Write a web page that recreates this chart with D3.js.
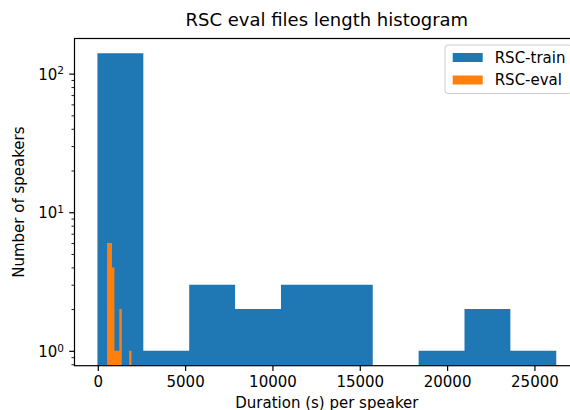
<!DOCTYPE html>
<html>
<head>
<meta charset="utf-8">
<script src="https://cdn.jsdelivr.net/npm/d3@7"></script>
<style>
  body { margin: 0; background: #fff; }
  svg { font-family: "DejaVu Sans", sans-serif; display: block; }
</style>
</head>
<body>
<div id="chart"></div>
<script>
// histogram bins (seconds per speaker)
var trainEdges = [-20, 2607, 5234, 7861, 10488, 13115, 15742, 18369, 20996, 23623, 26250];
var trainCounts = [140, 1, 3, 2, 3, 3, 0, 1, 2, 1];

var evalEdges = [532, 672, 812, 952, 1092, 1232, 1372, 1512, 1652, 1792, 1932];
var evalCounts = [6, 6, 4, 1, 1, 2, 0, 0, 0, 1];

var xTicks = [0, 5000, 10000, 15000, 20000, 25000];
var yMajor = [1, 10, 100];
var yExp = ["0", "1", "2"];
var yMinor = [0.8, 0.9, 2, 3, 4, 5, 6, 7, 8, 9, 20, 30, 40, 50, 60, 70, 80, 90];

var seriesNames = ["RSC-train", "RSC-eval"];
var seriesColors = ["#1f77b4", "#ff7f0e"];

var width = 570, height = 410;
var plot = {left: 74.5, right: 579.2, top: 38.5, bottom: 365.7};

var svg = d3.select("#chart")
  .append("svg")
    .attr("width", width)
    .attr("height", height);

// x: data range plus 5% margins, like matplotlib
var lo = d3.min([trainEdges[0], evalEdges[0]]),
    hi = d3.max([trainEdges[trainEdges.length - 1], evalEdges[evalEdges.length - 1]]),
    span = hi - lo;
var x = d3.scaleLinear()
    .domain([lo - 0.05 * span, hi + 0.05 * span])
    .range([plot.left, plot.right]);

// y: log scale, margins in log space
var lmax = Math.log10(d3.max(trainCounts.concat(evalCounts)));
var m = 0.05 * lmax;
var y = d3.scaleLog()
    .domain([Math.pow(10, -m), Math.pow(10, lmax + m)])
    .range([plot.bottom, plot.top]);

svg.append("clipPath").attr("id", "clip")
  .append("rect")
    .attr("x", plot.left).attr("y", plot.top)
    .attr("width", plot.right - plot.left)
    .attr("height", plot.bottom - plot.top);

// one stepped area per histogram, so equal neighbouring bars have no seam
function drawHist(edges, counts, color) {
  var pts = edges.map(function(e, i) { return {x: e, n: i < counts.length ? counts[i] : 0}; });
  var area = d3.area()
    .curve(d3.curveStepAfter)
    .x(function(d) { return x(d.x); })
    .y0(plot.bottom)
    .y1(function(d) { return d.n > 0 ? y(d.n) : plot.bottom; });
  svg.append("path")
    .attr("clip-path", "url(#clip)")
    .attr("d", area(pts))
    .attr("fill", color);
}

drawHist(trainEdges, trainCounts, seriesColors[0]);
drawHist(evalEdges, evalCounts, seriesColors[1]);

// x axis
var gx = svg.append("g")
  .attr("transform", "translate(0," + plot.bottom + ")")
  .call(d3.axisBottom(x).tickValues(xTicks).tickSize(5.25).tickPadding(5.25).tickFormat(d3.format("d")));
gx.select(".domain").remove();
gx.selectAll(".tick line").attr("stroke", "#000").attr("stroke-width", 1.2);
gx.selectAll(".tick text").attr("font-size", 15).attr("font-family", "DejaVu Sans").attr("fill", "#000");

// y axis, major + minor ticks
var gy = svg.append("g")
  .attr("transform", "translate(" + plot.left + ",0)")
  .call(d3.axisLeft(y).tickValues(yMajor).tickSize(5.25).tickFormat(""));
gy.select(".domain").remove();
gy.selectAll(".tick line").attr("stroke", "#000").attr("stroke-width", 1.2);

var gyMinor = svg.append("g")
  .attr("transform", "translate(" + plot.left + ",0)")
  .call(d3.axisLeft(y).tickValues(yMinor).tickSize(3).tickFormat(""));
gyMinor.select(".domain").remove();
gyMinor.selectAll(".tick line").attr("stroke", "#000").attr("stroke-width", 0.9);

// 10^n labels
var ylab = svg.append("g")
  .selectAll("text")
  .data(yMajor)
  .enter()
  .append("text")
    .attr("x", plot.left - 10.5)
    .attr("y", function(d) { return y(d) + 6; })
    .attr("text-anchor", "end")
    .attr("font-size", 15)
    .attr("fill", "#000");
ylab.append("tspan").text("10");
ylab.append("tspan")
    .attr("font-size", 10.5)
    .attr("dy", -5.3)
    .text(function(d, i) { return yExp[i]; });

// spines
svg.append("rect")
    .attr("x", plot.left).attr("y", plot.top)
    .attr("width", plot.right - plot.left)
    .attr("height", plot.bottom - plot.top)
    .attr("fill", "none")
    .attr("stroke", "#000")
    .attr("stroke-width", 1.2);

// title and axis labels
var cx = (plot.left + plot.right) / 2;
svg.append("text")
    .attr("x", cx).attr("y", 25.5)
    .attr("text-anchor", "middle")
    .attr("font-size", 18)
    .text("RSC eval files length histogram");

svg.append("text")
    .attr("x", cx).attr("y", 407.5)
    .attr("text-anchor", "middle")
    .attr("font-size", 15)
    .text("Duration (s) per speaker");

svg.append("text")
    .attr("transform", "translate(24," + (plot.top + plot.bottom) / 2 + ") rotate(-90)")
    .attr("text-anchor", "middle")
    .attr("font-size", 15)
    .text("Number of speakers");

// legend (upper right)
var legLeft = 445, legTop = 45;
var leg = svg.append("g");
leg.append("rect")
    .attr("x", legLeft).attr("y", legTop)
    .attr("width", plot.right - 7.5 - legLeft)
    .attr("height", 48.5)
    .attr("rx", 3)
    .attr("fill", "#fff")
    .attr("fill-opacity", 0.8)
    .attr("stroke", "#cccccc")
    .attr("stroke-width", 1);

var items = leg.selectAll(".item")
  .data(seriesNames)
  .enter()
  .append("g")
    .attr("class", "item")
    .attr("transform", function(d, i) { return "translate(0," + (legTop + 12.5 + i * 22.5) + ")"; });
items.append("rect")
    .attr("x", legLeft + 7.7)
    .attr("y", -4.5)
    .attr("width", 30)
    .attr("height", 9)
    .attr("fill", function(d, i) { return seriesColors[i]; });
items.append("text")
    .attr("x", legLeft + 49.7)
    .attr("y", 5.3)
    .attr("font-size", 15)
    .text(function(d) { return d; });
</script>
</body>
</html>
